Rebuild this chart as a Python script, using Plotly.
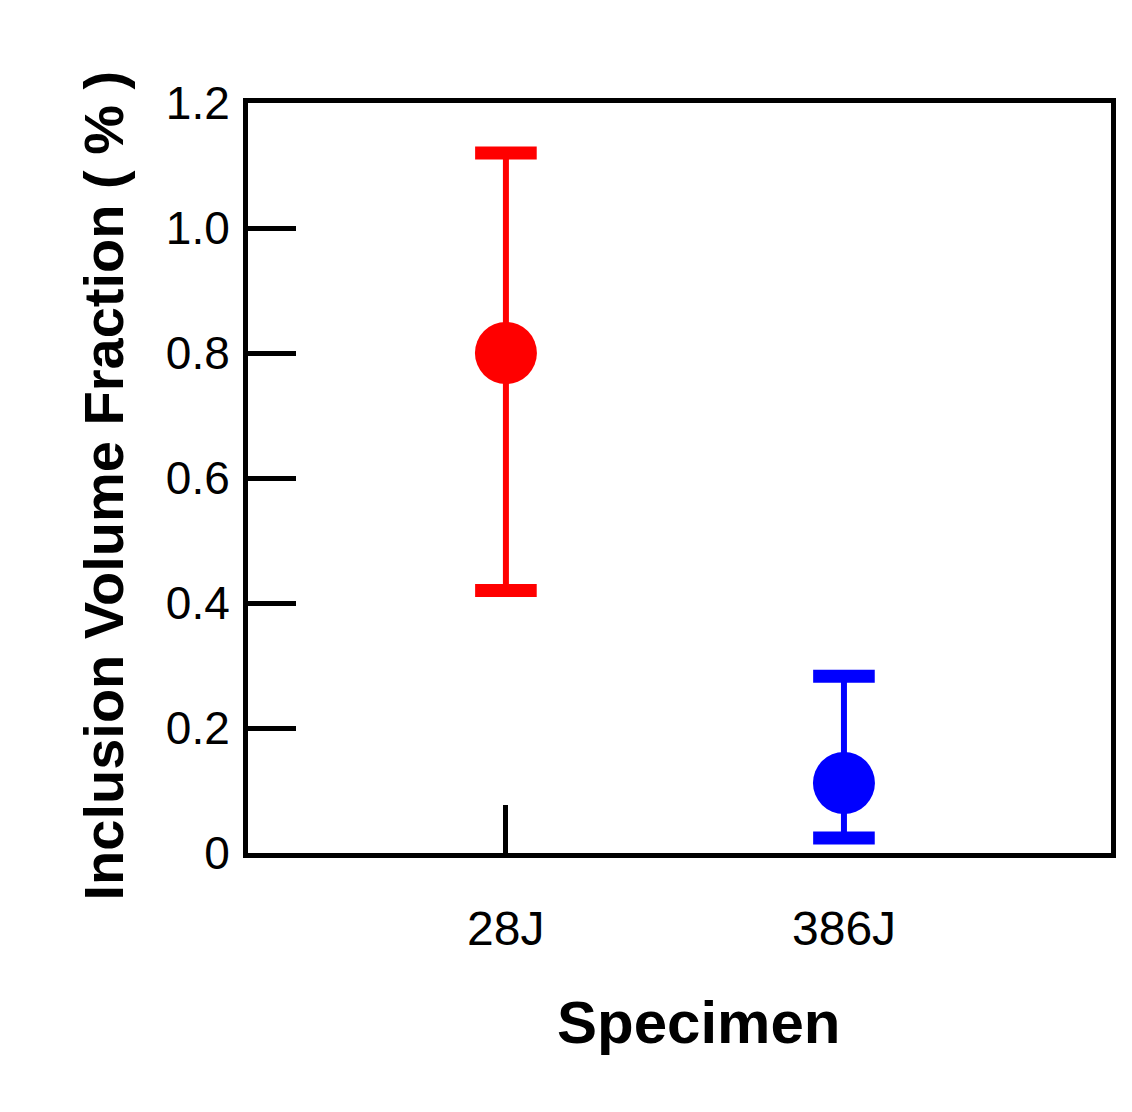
import plotly.graph_objects as go

categories = ["28J", "386J"]
xpos = [1, 2]
means = [0.80, 0.112]
upper = [1.12, 0.283]
lower = [0.42, 0.024]
colors = ["#ff0000", "#0000ff"]
yticks = [0, 0.2, 0.4, 0.6, 0.8, 1.0, 1.2]
ytick_text = ["0", "0.2", "0.4", "0.6", "0.8", "1.0", "1.2"]

fig = go.Figure()
for x, m, u, l, c in zip(xpos, means, upper, lower, colors):
    fig.add_trace(go.Scatter(
        x=[x], y=[m], mode="markers",
        marker=dict(size=62, color=c),
        error_y=dict(type="data", symmetric=False, array=[u - m], arrayminus=[m - l],
                     color=c, thickness=6, width=0),
        showlegend=False))
    fig.add_trace(go.Scatter(
        x=[x, x], y=[u, l], mode="markers",
        marker=dict(symbol="line-ew", size=44, line=dict(width=13, color=c)),
        showlegend=False))

font = "Liberation Sans, Arial, sans-serif"
fig.update_layout(
    width=1132, height=1112,
    margin=dict(l=240, r=29, t=95, b=267, autoexpand=False),
    plot_bgcolor="white", paper_bgcolor="white",
    font=dict(family=font, color="black", size=46),
    xaxis=dict(range=[0.237, 2.79], tickvals=[1], ticktext=[""], ticks="inside",
               ticklen=48, tickwidth=5, tickcolor="black",
               showgrid=False, zeroline=False, showline=True, linewidth=5,
               linecolor="black", mirror=True),
    yaxis=dict(range=[0, 1.2], tickvals=yticks, ticktext=ytick_text, ticks="inside",
               ticklen=48, tickwidth=5, tickcolor="black",
               showgrid=False, zeroline=False, showline=True, linewidth=5,
               linecolor="black", mirror=True, ticklabelstandoff=4),
)
for x, name in zip(xpos, categories):
    fig.add_annotation(x=x, y=0, yref="y", xref="x", text=name, showarrow=False,
                       yshift=-75, font=dict(size=48))
fig.add_annotation(x=690, y=1112 - 1050, xref="paper", yref="paper", text="<b>Specimen</b>",
                   showarrow=False, font=dict(size=60))
fig.layout.annotations[-1].update(xref="x domain", yref="y domain",
                                  x=(690 - 240) / 863, y=-(1050 - 845) / 750)
fig.add_annotation(xref="x domain", yref="y domain", x=-(240 - 62) / 863,
                   y=(845 - 478) / 750, text="<b>Inclusion Volume Fraction ( % )</b>",
                   textangle=-90, showarrow=False, font=dict(size=56))
fig.write_html("out.html")
